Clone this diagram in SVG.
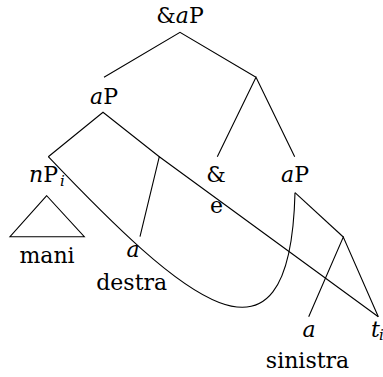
<svg xmlns="http://www.w3.org/2000/svg" width="383" height="377" viewBox="0 0 383 377">
<style>
text{font-family:"DejaVu Serif","Liberation Serif",serif;font-size:22px;fill:#000}
.m{text-anchor:middle}
.it{font-style:italic}
.sub{font-size:15px;font-style:italic}
.ln{fill:none;stroke:#000;stroke-width:1.1}
</style>
<rect width="383" height="377" fill="#fff"/>
<g id="connectors" class="ln">
<path d="M104,77.3 L180,32.3 L256,77.3"/>
<path d="M217.3,156.7 L256,77.3 L294.7,156.7"/>
<path d="M48.3,156.7 L103,112.3 L159.3,156.7"/>
<path d="M140,236.7 L159.3,156.7 L378.3,316.7"/>
<path d="M295,192.7 L343.3,237"/>
<path d="M308.7,316.7 L343.3,237 L378.3,316.7"/>
<path d="M48.3,156.7 C180,295 290,395 295,192.7"/>
<path d="M46.7,195.7 L10,236.7 L84.3,236.7 Z"/>
</g>
<g id="n-root"><text class="m" x="180" y="23">&amp;<tspan class="it">a</tspan>P</text></g>
<g id="n-aP1"><text class="m" x="104" y="104"><tspan class="it">a</tspan>P</text></g>
<g id="n-nP"><text x="29" y="182"><tspan class="it">n</tspan>P</text><text class="sub" x="60" y="186">i</text></g>
<g id="n-mani"><text class="m" x="47" y="263">mani</text></g>
<g id="n-a1"><text class="m it" x="133" y="256.7">a</text><text class="m" x="131.7" y="290">destra</text></g>
<g id="n-amp"><text class="m" x="216" y="182">&amp;</text><text class="m" x="216.5" y="213">e</text></g>
<g id="n-aP2"><text class="m" x="295" y="182"><tspan class="it">a</tspan>P</text></g>
<g id="n-a2"><text class="m it" x="309" y="336.7">a</text><text class="m" x="307.5" y="368.3">sinistra</text></g>
<g id="n-t"><text class="it" x="371" y="336.7">t</text><text class="sub" x="379" y="340">i</text></g>
</svg>
